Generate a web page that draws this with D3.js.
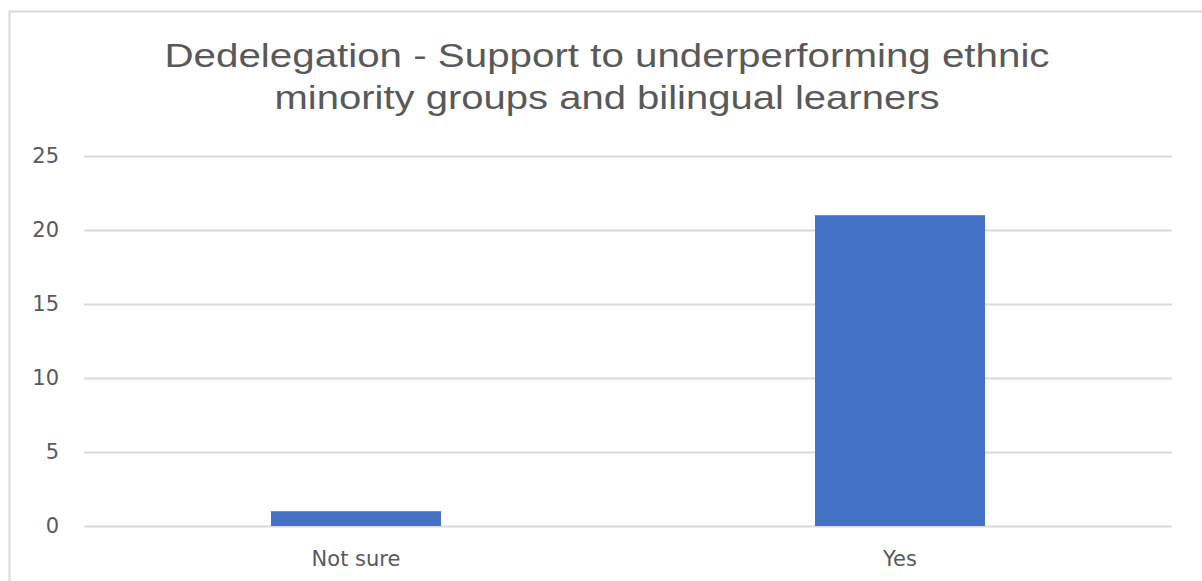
<!DOCTYPE html>
<html>
<head>
<meta charset="utf-8">
<script src="https://cdn.jsdelivr.net/npm/d3@7/dist/d3.min.js"></script>
<style>
  html, body { margin: 0; padding: 0; background: #fff; }
  svg { display: block; }
</style>
</head>
<body>
<svg id="chart" width="1202" height="581"></svg>
<script>
// Survey responses
const categories = ["Not sure", "Yes"];
const values = [1, 21];
const yTicks = [0, 5, 10, 15, 20, 25];
const titleLines = [
  "Dedelegation - Support to underperforming  ethnic",
  "minority groups and bilingual learners"
];

const svg = d3.select("#chart");
const W = 1202, H = 581;
const titleFont = "'Liberation Sans Narrow', 'Liberation Sans', 'DejaVu Sans Condensed', sans-serif";
const labelFont = "'DejaVu Sans', 'Open Sans', sans-serif";

svg.append("rect").attr("width", W).attr("height", H).attr("fill", "#fff");

// chart frame
svg.append("rect")
  .attr("x", 9.5).attr("y", 11.5)
  .attr("width", W + 20).attr("height", H + 20)
  .attr("fill", "none")
  .attr("stroke", "#d9d9d9")
  .attr("stroke-width", 2);

const x = d3.scaleBand()
  .domain(categories)
  .range([84, 1172])
  .paddingInner(0.6875)
  .paddingOuter(0.34375);

const y = d3.scaleLinear()
  .domain([0, 25])
  .range([526, 156]);

// gridlines
const grid = svg.append("g")
  .call(d3.axisLeft(y).tickValues(yTicks).tickSize(-(1172 - 84)).tickFormat(""))
  .attr("transform", "translate(84,0)");
grid.select(".domain").remove();
grid.selectAll("line").attr("stroke", "#d9d9d9").attr("stroke-width", 2);

// y tick labels
const yAxis = svg.append("g")
  .attr("transform", "translate(59,0)")
  .call(d3.axisLeft(y).tickValues(yTicks).tickSize(0).tickPadding(0));
yAxis.select(".domain").remove();
yAxis.selectAll("text")
  .attr("fill", "#595959")
  .attr("font-family", labelFont)
  .attr("font-size", 21);

// bars
svg.append("g")
  .selectAll("rect")
  .data(categories.map((c, i) => ({ c, v: values[i] })))
  .join("rect")
  .attr("x", d => x(d.c))
  .attr("width", x.bandwidth())
  .attr("y", d => y(d.v))
  .attr("height", d => y(0) - y(d.v))
  .attr("fill", "#4472C4");

// x category labels
const xAxis = svg.append("g")
  .attr("transform", "translate(0,526)")
  .call(d3.axisBottom(x).tickSize(0).tickPadding(25));
xAxis.select(".domain").remove();
xAxis.selectAll("text")
  .attr("fill", "#595959")
  .attr("font-family", labelFont)
  .attr("font-size", 21);

// title
const title = svg.append("g");
const titleWidths = [885, 665];
title.selectAll("text")
  .data(titleLines)
  .join("text")
  .attr("x", 607)
  .attr("y", (d, i) => 67 + i * 42)
  .attr("text-anchor", "middle")
  .attr("fill", "#595959")
  .attr("font-family", titleFont)
  .attr("font-size", 33)
  .attr("textLength", (d, i) => titleWidths[i])
  .attr("lengthAdjust", "spacingAndGlyphs")
  .text(d => d);
</script>
</body>
</html>
